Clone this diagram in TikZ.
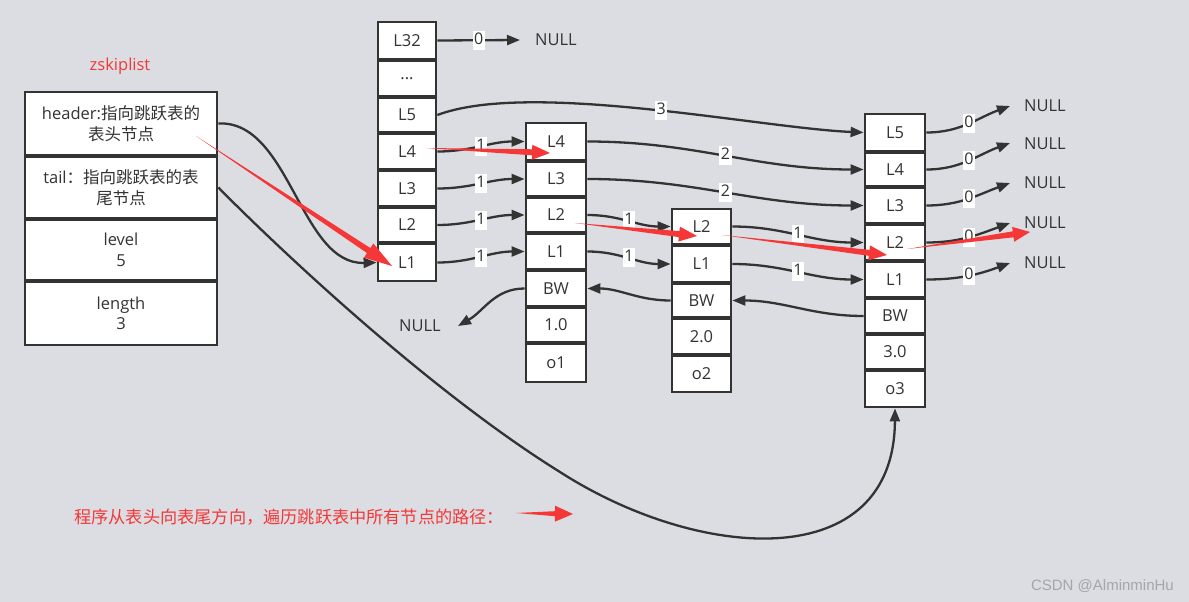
\documentclass[tikz,border=0pt]{standalone}
\usepackage{fontspec}
\setmainfont{Open Sans}
\newfontfamily\cjk{Noto Sans CJK SC}
\newfontfamily\wmfont{Liberation Sans}
\usetikzlibrary{arrows.meta,calc}
\definecolor{bg}{RGB}{220,221,226}
\definecolor{ink}{RGB}{51,51,51}
\definecolor{hl}{RGB}{245,55,55}
\definecolor{wm}{RGB}{165,166,172}
\newcommand\tapearrow[5]{%
  \path (#1) coordinate (ta) (#2) coordinate (tb);
  \path ($(tb)!#3!(ta)$) coordinate (tc);
  \fill[hl] (ta) -- ($(tc)!#5!90:(tb)$) -- ($(tc)!#4!90:(tb)$) -- (tb)
    -- ($(tc)!#4!-90:(tb)$) -- ($(tc)!#5!-90:(tb)$) -- cycle;
}
\begin{document}
\begin{tikzpicture}[x=1pt,y=-1pt,
  cell/.style={draw=ink, line width=2.8pt, fill=white, text=ink,
    font=\fontsize{16.5}{20.5}\selectfont, inner sep=0pt, align=center},
  edge/.style={draw=ink, line width=2.3pt, -{Triangle[length=13pt,width=10pt]}},
  lbl/.style={fill=white, text=ink, inner sep=1.5pt, text height=12pt, text depth=4pt,
    font=\fontsize{16}{18}\selectfont},
  nulltxt/.style={text=ink, inner sep=0pt, font=\fontsize{16.5}{18}\selectfont},
  redtxt/.style={text=hl, inner sep=0pt}]
\fill[bg] (0,0) rectangle (1189,602);
\useasboundingbox (0,0) rectangle (1189,602);

% zskiplist structure
\node[redtxt, font=\fontsize{16.5}{18}\selectfont] (title) at (120,66) {zskiplist};
\node[cell, minimum width=192pt, minimum height=63pt] (zh) at (121,123.5)
  {header:{\cjk 指向跳跃表的}\\{\cjk 表头节点}};
\node[cell, minimum width=192pt, minimum height=61pt] (zt) at (121,187.5)
  {tail{\cjk ：指向跳跃表的表}\\{\cjk 尾节点}};
\node[cell, minimum width=192pt, minimum height=60pt] (zl) at (121,250) {level\\5};
\node[cell, minimum width=192pt, minimum height=63pt] (zn) at (121,313.5) {length\\3};

% header node
\node[cell, minimum width=58pt, minimum height=37pt] (h32) at (407,40.5) {L32};
\node[cell, minimum width=58pt, minimum height=35pt] (hd) at (407,78.5) {...};
\node[cell, minimum width=58pt, minimum height=34pt] (h5) at (407,115) {L5};
\node[cell, minimum width=58pt, minimum height=35pt] (h4) at (407,151.5) {L4};
\node[cell, minimum width=58pt, minimum height=35pt] (h3) at (407,188.5) {L3};
\node[cell, minimum width=58pt, minimum height=34pt] (h2) at (407,225) {L2};
\node[cell, minimum width=58pt, minimum height=37pt] (h1) at (407,262.5) {L1};

% node o1
\node[cell, minimum width=60pt, minimum height=37pt] (a4) at (556,141.5) {L4};
\node[cell, minimum width=60pt, minimum height=34pt] (a3) at (556,179) {L3};
\node[cell, minimum width=60pt, minimum height=34pt] (a2) at (556,215) {L2};
\node[cell, minimum width=60pt, minimum height=35pt] (a1) at (556,251.5) {L1};
\node[cell, minimum width=60pt, minimum height=35pt] (abw) at (556,288.5) {BW};
\node[cell, minimum width=60pt, minimum height=34pt] (as) at (556,325) {1.0};
\node[cell, minimum width=60pt, minimum height=38pt] (ao) at (556,363) {o1};

% node o2
\node[cell, minimum width=59pt, minimum height=35pt] (b2) at (701.5,226.5) {L2};
\node[cell, minimum width=59pt, minimum height=36pt] (b1) at (701.5,264) {L1};
\node[cell, minimum width=59pt, minimum height=33pt] (bbw) at (701.5,300.5) {BW};
\node[cell, minimum width=59pt, minimum height=35pt] (bs) at (701.5,336.5) {2.0};
\node[cell, minimum width=59pt, minimum height=36pt] (bo) at (701.5,374) {o2};

% node o3
\node[cell, minimum width=60pt, minimum height=37pt] (c5) at (895,132.5) {L5};
\node[cell, minimum width=60pt, minimum height=33pt] (c4) at (895,169.5) {L4};
\node[cell, minimum width=60pt, minimum height=35pt] (c3) at (895,205.5) {L3};
\node[cell, minimum width=60pt, minimum height=35pt] (c2) at (895,242.5) {L2};
\node[cell, minimum width=60pt, minimum height=35pt] (c1) at (895,279.5) {L1};
\node[cell, minimum width=60pt, minimum height=34pt] (cbw) at (895,316) {BW};
\node[cell, minimum width=60pt, minimum height=34pt] (cs) at (895,352) {3.0};
\node[cell, minimum width=60pt, minimum height=36pt] (co) at (895,389) {o3};

% NULL texts and arrow tips
\node[nulltxt] (n32) at (556,40) {NULL};
\coordinate (t32) at (520,40);
\node[nulltxt] (nbw) at (420,326) {NULL};
\coordinate (tbw) at (458,326);
\node[nulltxt] (n5) at (1045,106) {NULL};
\node[nulltxt] (n4) at (1045,144) {NULL};
\node[nulltxt] (n3) at (1045,183) {NULL};
\node[nulltxt] (n2) at (1045,223) {NULL};
\node[nulltxt] (n1) at (1045,263) {NULL};
\coordinate (t5) at (1010,106);
\coordinate (t4) at (1010,143);
\coordinate (t3) at (1010,183);
\coordinate (t2) at (1010,223);
\coordinate (t1) at (1010,263);
\coordinate (tailmid) at (560,472);

% forward pointers
\draw[edge] (h32.east) -- node[lbl]{0} (t32);
\draw[edge] (h5.east) .. controls (530,80) and (760,128) .. (c5.west) node[lbl,pos=0.53]{3};
\draw[edge] (h4.east) to[out=0,in=180] node[lbl]{1} (a4.west);
\draw[edge] (h3.east) to[out=0,in=180] node[lbl]{1} (a3.west);
\draw[edge] (h2.east) to[out=0,in=180] node[lbl]{1} (a2.west);
\draw[edge] (h1.east) to[out=0,in=180] node[lbl]{1} (a1.west);
\draw[edge] (a4.east) to[out=0,in=180] node[lbl]{2} (c4.west);
\draw[edge] (a3.east) to[out=0,in=180] node[lbl]{2} (c3.west);
\draw[edge] (a2.east) to[out=0,in=180] node[lbl]{1} (b2.west);
\draw[edge] (a1.east) to[out=0,in=180] node[lbl]{1} (b1.west);
\draw[edge] (b2.east) to[out=0,in=180] node[lbl]{1} (c2.west);
\draw[edge] (b1.east) to[out=0,in=180] node[lbl]{1} (c1.west);
\draw[edge] (c5.east) to[out=0,in=200] node[lbl]{0} (t5);
\draw[edge] (c4.east) to[out=0,in=200] node[lbl]{0} (t4);
\draw[edge] (c3.east) to[out=0,in=200] node[lbl]{0} (t3);
\draw[edge] (c2.east) to[out=0,in=200] node[lbl]{0} (t2);
\draw[edge] (c1.east) to[out=0,in=200] node[lbl]{0} (t1);

% backward pointers
\draw[edge] (cbw.west) to[out=180,in=0] (bbw.east);
\draw[edge] (bbw.west) to[out=180,in=0] (abw.east);
\draw[edge] (abw.west) to[out=180,in=30] (tbw);

% header / tail pointers
\draw[edge] (zh.east) .. controls (290,120) and (300,265) .. (h1.west);
\draw[edge] (zt.east) .. controls (260,230) and (420,385) .. (tailmid)
  .. controls (700,562) and (894,575) .. (co.south);

% traversal path (red)
\coordinate (r1s) at (196,136);  \coordinate (r1e) at (392,266);
\coordinate (r2s) at (426,148);  \coordinate (r2e) at (550,153);
\coordinate (r3s) at (575,223);  \coordinate (r3e) at (697,236);
\coordinate (r4s) at (722,235);  \coordinate (r4e) at (887,255);
\coordinate (r5s) at (907,249);  \coordinate (r5e) at (1030,232);
\coordinate (r6s) at (516,513);  \coordinate (r6e) at (573,514);
\tapearrow{r1s}{r1e}{28pt}{8.5pt}{3pt}
\tapearrow{r2s}{r2e}{18pt}{7.5pt}{3pt}
\tapearrow{r3s}{r3e}{18pt}{7.5pt}{3pt}
\tapearrow{r4s}{r4e}{18pt}{7.5pt}{3pt}
\tapearrow{r5s}{r5e}{17pt}{7.5pt}{3pt}
\tapearrow{r6s}{r6e}{18pt}{8pt}{2.5pt}

\node[redtxt, anchor=west, font=\fontsize{17.2}{20}\selectfont\cjk] (legend) at (74,517)
  {程序从表头向表尾方向，遍历跳跃表中所有节点的路径：};
\node[text=wm, anchor=east, inner sep=0pt, font=\fontsize{15}{17}\selectfont\wmfont] (wmark) at (1174,586)
  {CSDN @AlminminHu};
\end{tikzpicture}
\end{document}
